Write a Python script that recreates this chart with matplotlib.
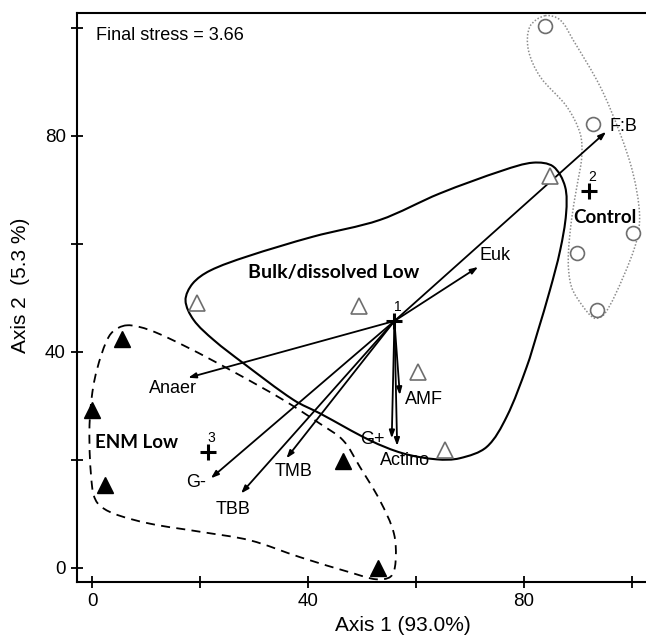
# ------------------------------------------------------------------------ #
#                                  MODULES                                 #
# ------------------------------------------------------------------------ #

import numpy             as np
import matplotlib
matplotlib.use("Agg")
import matplotlib.pyplot as plt
from matplotlib.path    import Path
from matplotlib.patches import PathPatch

# settings
plt.rcParams['font.family'] = ['Liberation Sans', 'DejaVu Sans']

# ---------------------------------------------------------------------------- #
#                                     DATA                                     #
# ---------------------------------------------------------------------------- #

# samples
control_x = [83.8, 92.7, 100.2, 89.9, 93.6]
control_y = [100.2, 82.2, 61.9, 58.2, 47.7]

bulk_x = [19.5, 49.5, 60.4, 65.4, 84.9]
bulk_y = [49.1, 48.5, 36.3, 21.8, 72.5]

enm_x = [5.6, 0.0, 2.3, 46.4, 53.0]
enm_y = [42.3, 29.3, 15.3, 19.8, 0.0]

# group centroids
centroid_x     = [56.0, 92.1, 21.4]
centroid_y     = [45.7, 69.8, 21.5]
centroid_names = ["1", "2", "3"]

# joint-plot vectors (all start at centroid 1)
vec_origin = (56.0, 45.7)
vec_names  = ["F:B", "Euk", "Anaer", "G-", "TBB", "TMB", "AMF", "G+", "Actino"]
vec_tip_x  = [95.2, 71.5, 17.8, 22.0, 27.6, 36.0, 57.0, 55.5, 56.5]
vec_tip_y  = [80.7, 55.7, 35.2, 16.6, 13.8, 20.3, 32.0, 24.0, 22.6]
vec_lab_x  = [98.4, 74.6, 14.9, 19.3, 26.2, 37.3, 61.5, 52.0, 58.0]
vec_lab_y  = [81.7, 57.9, 33.2, 15.8, 10.8, 17.9, 31.2, 23.8, 19.8]

# group outlines
bulk_hull_x = [17.3, 18.6, 21.8, 28.6, 40.9, 53.3, 64.4, 76.2, 81.7, 85.4, 87.6, 87.8,
               86.7, 84.8, 82.5, 80.5, 76.8, 73.1, 68.1, 63.8, 57.6, 51.5, 42.2, 37.3,
               28.0, 22.5, 18.8]
bulk_hull_y = [49.5, 52.6, 55.0, 57.6, 61.3, 64.4, 69.3, 73.6, 75.0, 74.3, 70.6, 65.6,
               58.8, 51.4, 43.6, 37.2, 28.0, 22.4, 20.3, 20.1, 21.2, 23.6, 28.6, 31.1,
               37.9, 42.2, 45.9]

enm_hull_x = [6.4, 3.6, 1.8, 0.2, -0.5, 0.0, 1.0, 3.9, 10.7, 20.0, 29.3, 38.5, 48.4,
              52.6, 55.3, 56.2, 55.9, 53.3, 49.6, 46.5, 42.2, 35.4, 26.2, 17.5, 10.7]
enm_hull_y = [44.9, 43.5, 39.7, 33.5, 25.5, 15.0, 12.0, 10.1, 8.2, 6.7, 5.1, 2.0, -1.0,
              -2.1, -1.6, 1.0, 6.4, 12.5, 18.7, 23.6, 26.7, 31.1, 36.3, 40.9, 44.0]

control_hull_x = [83.9, 81.1, 80.8, 83.0, 87.9, 90.4, 90.7, 89.8, 88.8, 88.2, 88.8, 91.0,
                  93.1, 95.0, 98.4, 100.9, 101.4, 100.2, 97.8, 94.1, 89.1, 86.7]
control_hull_y = [102.2, 100.2, 95.9, 90.9, 85.4, 80.4, 76.1, 70.6, 64.4, 57.0, 52.0, 48.3,
                  46.2, 47.1, 53.9, 60.7, 65.6, 73.0, 80.4, 89.1, 97.7, 101.4]

# ---------------------------------------------------------------------------- #
#                                 SUBFUNCTIONS                                 #
# ---------------------------------------------------------------------------- #

def closed_curve(xs, ys) -> Path:
    # chord-length catmull-rom outline as cubic bezier segments
    pts = np.column_stack([xs, ys])
    n = len(pts)
    seg = np.linalg.norm(np.roll(pts, -1, axis=0) - pts, axis=1)  # p[i] -> p[i+1]
    tang = (np.roll(pts, -1, axis=0) - np.roll(pts, 1, axis=0)) / (seg + np.roll(seg, 1))[:, None]
    verts = [pts[0]]
    codes = [Path.MOVETO]
    for i in range(n):
        j = (i + 1) % n
        verts += [pts[i] + tang[i] * seg[i] / 3, pts[j] - tang[j] * seg[i] / 3, pts[j]]
        codes += [Path.CURVE4] * 3
    return Path(verts, codes)


def draw_hull(ax, xs, ys, **kw):
    ax.add_patch(PathPatch(closed_curve(xs, ys), fill=False, **kw))


# ---------------------------------------------------------------------------- #
#                                   MAIN FUNC                                  #
# ---------------------------------------------------------------------------- #

fig = plt.figure(figsize=(6.46, 6.39), dpi=100)
ax = fig.add_axes([0.1192, 0.0892, 0.8808, 0.8905])

ax.set_xlim(-2.8, 102.6)
ax.set_ylim(-2.6, 102.7)

# outlines
draw_hull(ax, bulk_hull_x, bulk_hull_y, edgecolor="black", lw=1.5, zorder=2)
draw_hull(ax, enm_hull_x, enm_hull_y, edgecolor="black", lw=1.3,
          linestyle=(0, (5, 3.5)), zorder=2)
draw_hull(ax, control_hull_x, control_hull_y, edgecolor="#8c8c8c", lw=1.1,
          linestyle=(0, (1, 1.2)), zorder=2)

# vectors
for name, tx, ty, lx, ly in zip(vec_names, vec_tip_x, vec_tip_y, vec_lab_x, vec_lab_y):
    ax.annotate("", xy=(tx, ty), xytext=vec_origin,
                arrowprops=dict(arrowstyle="-|>,head_length=0.45,head_width=0.16",
                                lw=1.3, color="black", shrinkA=0, shrinkB=0),
                zorder=3)
    ax.text(lx, ly, name, fontsize=13, ha="center", va="center", zorder=4)

# samples
ax.plot(control_x, control_y, "o", ms=10, mfc="white", mec="#6e6e6e", mew=1.2, zorder=4)
ax.plot(bulk_x, bulk_y, "^", ms=11, mfc="white", mec="#6e6e6e", mew=1.2, zorder=4)
ax.plot(enm_x, enm_y, "^", ms=11, mfc="black", mec="black", zorder=4)

# centroids
ax.plot(centroid_x, centroid_y, "+", ms=12, mew=2.2, color="black", zorder=5)
for cx, cy, name in zip(centroid_x, centroid_y, centroid_names):
    ax.text(cx + 0.6, cy + 2.6, name, fontsize=10, ha="center", va="center", zorder=5)

# group labels
ax.text(44.8, 54.6, "Bulk/dissolved Low", family="Lato", weight="bold", fontsize=14,
        ha="center", va="center", zorder=5)
ax.text(8.3, 23.3, "ENM Low", family="Lato", weight="bold", fontsize=13.5,
        ha="center", va="center", zorder=5)
ax.text(95.0, 64.9, "Control", family="Lato", weight="bold", fontsize=13.5,
        ha="center", va="center", zorder=5)

ax.text(0.7, 98.6, "Final stress = 3.66", fontsize=13, ha="left", va="center")

# axes styling
ax.set_xticks(np.arange(0, 101, 20))
ax.set_xticklabels(["0", "", "40", "", "80", ""])
ax.set_yticks(np.arange(0, 101, 20))
ax.set_yticklabels(["0", "", "40", "", "80", ""])
ax.tick_params(direction="inout", length=8, width=1.3, labelsize=13.5, pad=4)
for side in ("left", "bottom", "top"):
    ax.spines[side].set_linewidth(1.5)
ax.spines["right"].set_visible(False)

ax.set_xlabel("Axis 1 (93.0%)", fontsize=15)
ax.set_ylabel("Axis 2  (5.3 %)", fontsize=15)
ax.xaxis.set_label_coords(0.573, -0.060)
ax.yaxis.set_label_coords(-0.083, 0.522)

fig.savefig("out.png", dpi=100)
